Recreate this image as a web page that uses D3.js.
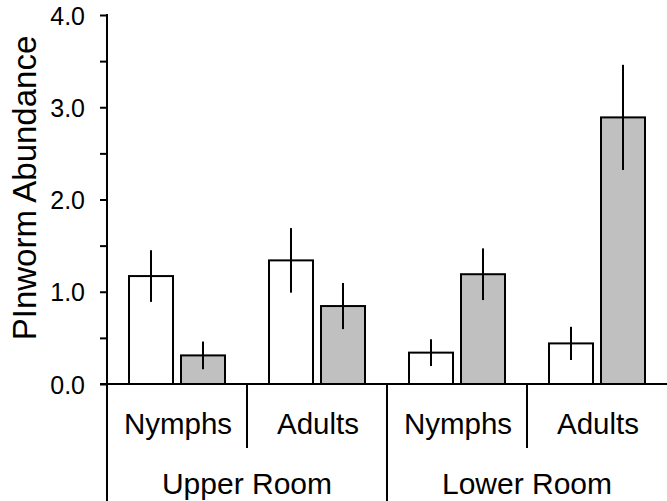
<!DOCTYPE html>
<html>
<head>
<meta charset="utf-8">
<script src="https://cdn.jsdelivr.net/npm/d3@7"></script>
<style>
  body { margin: 0; background: #fff; }
  svg text { font-family: "Liberation Sans", Arial, sans-serif; fill: #000; }
</style>
</head>
<body>
<svg id="chart" width="667" height="501"></svg>
<script>
// data
const rooms = ["Upper Room", "Lower Room"];
const stages = ["Nymphs", "Adults"];
const groups = ["Upper Nymphs", "Upper Adults", "Lower Nymphs", "Lower Adults"];
const whiteMeans = [1.17, 1.34, 0.34, 0.44];
const whiteErrs = [0.28, 0.35, 0.145, 0.18];
const grayMeans = [0.31, 0.845, 1.19, 2.89];
const grayErrs = [0.15, 0.25, 0.28, 0.57];
const yTicks = [0, 1, 2, 3, 4];
const yMinor = [0.5, 1.5, 2.5, 3.5];

const svg = d3.select("#chart");
const padL = 107, padR = 667, padT = 15, padB = 384;

const x = d3.scaleBand().domain(groups).range([padL, padR]).padding(0);
const xs = d3.scaleBand().domain(["white", "gray"]).range([0, x.bandwidth()])
  .paddingInner(8 / 52).paddingOuter(0.423);
const y = d3.scaleLinear().domain([0, 4]).range([padB, padT]);

const series = [
  {key: "white", fill: "#ffffff", means: whiteMeans, errs: whiteErrs},
  {key: "gray", fill: "#c0c0c0", means: grayMeans, errs: grayErrs}
];

// bars
series.forEach(s => {
  const g = svg.append("g");
  g.selectAll("rect")
    .data(groups)
    .enter().append("rect")
    .attr("x", (d) => x(d) + xs(s.key))
    .attr("width", xs.bandwidth())
    .attr("y", (d, i) => y(s.means[i]))
    .attr("height", (d, i) => y(0) - y(s.means[i]))
    .attr("fill", s.fill)
    .attr("stroke", "#000")
    .attr("stroke-width", 2);

  //error bars, no caps
  g.selectAll("line")
    .data(groups)
    .enter().append("line")
    .attr("x1", (d) => x(d) + xs(s.key) + xs.bandwidth() / 2)
    .attr("x2", (d) => x(d) + xs(s.key) + xs.bandwidth() / 2)
    .attr("y1", (d, i) => y(s.means[i] + s.errs[i]))
    .attr("y2", (d, i) => y(s.means[i] - s.errs[i]))
    .attr("stroke", "#000")
    .attr("stroke-width", 2);
});

// y axis
const yAxis = svg.append("g")
  .attr("transform", `translate(${padL},0)`)
  .call(d3.axisLeft(y).tickValues(yTicks).tickFormat(d3.format(".1f")).tickSize(7).tickPadding(15));
yAxis.attr("font-family", null);
yAxis.select(".domain").remove();
yAxis.selectAll(".tick line").attr("stroke", "#000").attr("stroke-width", 2);
yAxis.selectAll(".tick text")
  .style("font-size", "25px")
  .attr("dy", "0.36em");

svg.append("g")
  .attr("transform", `translate(${padL},0)`)
  .call(d3.axisLeft(y).tickValues(yMinor).tickFormat("").tickSize(7))
  .call(g => g.select(".domain").remove())
  .selectAll(".tick line").attr("stroke", "#000").attr("stroke-width", 2);

// axis lines
svg.append("line")
  .attr("x1", padL).attr("x2", padL)
  .attr("y1", y(4) - 1).attr("y2", 501)
  .attr("stroke", "#000").attr("stroke-width", 2);
svg.append("line")
  .attr("x1", padL - 7).attr("x2", padR)
  .attr("y1", y(0)).attr("y2", y(0))
  .attr("stroke", "#000").attr("stroke-width", 2);

// separators below the axis
svg.selectAll("line.sub")
  .data([groups[1], groups[3]])
  .enter().append("line")
  .attr("class", "sub")
  .attr("x1", (d) => x(d)).attr("x2", (d) => x(d))
  .attr("y1", y(0)).attr("y2", 448)
  .attr("stroke", "#000").attr("stroke-width", 2);
svg.append("line")
  .attr("x1", x(groups[2])).attr("x2", x(groups[2]))
  .attr("y1", y(0)).attr("y2", 501)
  .attr("stroke", "#000").attr("stroke-width", 2);

// stage labels
svg.selectAll("text.stage")
  .data(groups)
  .enter().append("text")
  .attr("class", "stage")
  .attr("x", (d) => x(d) + x.bandwidth() / 2 + 1)
  .attr("y", 434)
  .attr("text-anchor", "middle")
  .style("font-size", "29.5px")
  .text((d, i) => stages[i % 2]);

// room labels
svg.selectAll("text.room")
  .data(rooms)
  .enter().append("text")
  .attr("class", "room")
  .attr("x", (d, i) => x(groups[i * 2]) + x.bandwidth())
  .attr("y", 494)
  .attr("text-anchor", "middle")
  .style("font-size", "30px")
  .text((d) => d);

// y title
svg.append("text")
  .attr("transform", "translate(36,188) rotate(-90)")
  .attr("text-anchor", "middle")
  .style("font-size", "33px")
  .text("PInworm Abundance");
</script>
</body>
</html>
